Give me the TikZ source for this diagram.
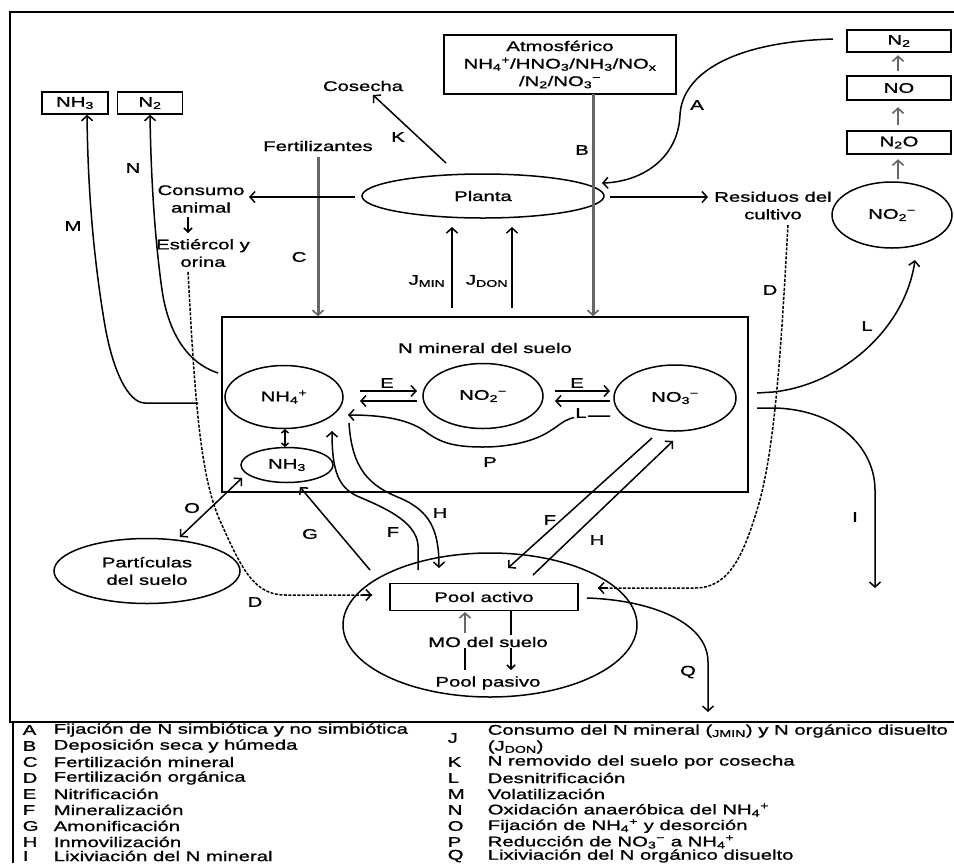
\documentclass[tikz,border=0pt]{standalone}
\usepackage{fontspec}
\setmainfont{Liberation Sans}[FakeStretch=1.45,FakeBold=1.2]
\usetikzlibrary{arrows.meta,shapes.geometric}
\newcommand\mysub[1]{\textsubscript{#1}}
\newcommand\mysup[1]{\textsuperscript{#1}}
\begin{document}
\begin{tikzpicture}[x=1pt,y=-1pt, font=\fontsize{14}{17.5}\selectfont,
  line width=1.5pt,
  arr/.style={-{Straight Barb[length=5pt,width=11pt]}},
  sarr/.style={-{Straight Barb[length=4pt,width=8pt]}},
  garr/.style={-{Straight Barb[length=5pt,width=11pt,line width=1.6pt]}, draw=black!60, line width=3pt},
  dbl/.style={{Straight Barb[length=5pt,width=11pt]}-{Straight Barb[length=5pt,width=11pt]}},
  sdbl/.style={{Straight Barb[length=3pt,width=7pt]}-{Straight Barb[length=3pt,width=7pt]}},
  box/.style={draw, rectangle, inner sep=0pt},
  ell/.style={draw, ellipse, inner sep=0pt},
  lab/.style={inner sep=0pt},
  dsh/.style={dash pattern=on 3pt off 1.5pt}]
\useasboundingbox (0,0) rectangle (954,863);
\fill[white] (0,0) rectangle (954,863);
% frame
\draw[line width=1.8pt] (954,12) -- (10,12) -- (10,722) -- (954,722);
\draw[line width=1.2pt] (13,722) -- (13,863);

% nodes
\node[box, minimum width=66, minimum height=22] (nh3t) at (75,103) {NH\mysub{3}};
\node[box, minimum width=65, minimum height=22] (n2t) at (150,103) {N\mysub{2}};
\node[lab] (cosecha) at (363,86) {Cosecha};
\node[lab] (fert) at (318,146) {Fertilizantes};
\node[lab, align=center] (consumo) at (201,199) {Consumo\\animal};
\node[lab, align=center] (estier) at (203,253) {Estiércol y\\orina};
\node[box, minimum width=232, minimum height=59, align=center] (atm) at (560,64.5)
  {Atmosférico\\NH\mysub{4}\mysup{+}/HNO\mysub{3}/NH\mysub{3}/NO\mysub{x}\\/N\mysub{2}/NO\mysub{3}\mysup{−}};
\node[ell, minimum width=242, minimum height=44] (planta) at (483,196) {Planta};
\node[lab, align=center] (resid) at (773,205.5) {Residuos del\\cultivo};
\node[box, minimum width=104, minimum height=22] (n2r) at (899,41) {N\mysub{2}};
\node[box, minimum width=104, minimum height=24] (nor) at (899,88) {NO};
\node[box, minimum width=104, minimum height=23] (n2or) at (899,142.5) {N\mysub{2}O};
\node[ell, minimum width=120, minimum height=66] (no2t) at (892,215) {NO\mysub{2}\mysup{−}};

\node[box, minimum width=526, minimum height=175] (soil) at (485,404.5) {};
\node[lab] (nmin) at (485,348) {N mineral del suelo};
\node[ell, minimum width=118, minimum height=63] (nh4) at (284,397) {NH\mysub{4}\mysup{+}};
\node[ell, minimum width=120, minimum height=65] (no2) at (483,396) {NO\mysub{2}\mysup{−}};
\node[ell, minimum width=122, minimum height=66] (no3) at (675,398) {NO\mysub{3}\mysup{−}};
\node[ell, minimum width=92, minimum height=35] (nh3s) at (287,465) {NH\mysub{3}};
\node[ell, minimum width=186, minimum height=65, align=center] (part) at (147,571) {Partículas\\del suelo};
\node[ell, minimum width=294, minimum height=144] (pool) at (490,625) {};
\node[box, minimum width=188, minimum height=27] (activo) at (484,597) {Pool activo};
\node[lab] (mo) at (488,642) {MO del suelo};
\node[lab] (pasivo) at (488,683) {Pool pasivo};

% coordinates
\coordinate (k1) at (446,163); \coordinate (k2) at (373,95);
\coordinate (c1) at (318,157);
\coordinate (pw) at (355,197); \coordinate (cw) at (249,197);
\coordinate (ce1) at (188,217); \coordinate (ce2) at (188,233);
\coordinate (b1) at (593,94);
\coordinate (a1) at (833,39); \coordinate (a2) at (602,183);
\coordinate (r1) at (610,197); \coordinate (r2) at (708,197);
\coordinate (jm1) at (452,308); \coordinate (jm2) at (452,227);
\coordinate (jd1) at (512,308); \coordinate (jd2) at (512,227);

% K
\draw[arr] (k1) -- (k2);
% C fertilizantes
\draw[garr] (c1) -- (c1 |- soil.north);
% consumo
\draw[arr] (pw) -- (cw);
\draw[sarr] (ce1) -- (ce2);
% B
\draw[garr] (b1) -- (b1 |- soil.north);
% A
\draw[arr] (a1) .. controls (730,42) and (682,75) .. (680,115) .. controls (678,160) and (640,182) .. (a2);
% residuos
\draw[arr] (r1) -- (r2);
% J
\draw[arr] (jm1) -- (jm2);
\draw[arr] (jd1) -- (jd2);
% right column
\draw[garr, line width=2.6pt] (no2t.north) ++(6,-2) -- ++(0,-20);
\draw[garr, line width=2.6pt] (n2or.north) ++(-1,-5) -- ++(0,-18);
\draw[garr, line width=2.6pt] (nor.north) ++(-1,-4) -- ++(0,-16);

% D left (dashed)
\coordinate (dl1) at (188,272); \coordinate (dl2) at (372,595);
\draw[dsh] (dl1) .. controls (195,400) and (200,480) .. (222,525) .. controls (242,570) and (255,595) .. (285,595) -- (dl2);
\draw[arr] ([xshift=-10pt]dl2) -- (dl2);
% D right (dashed)
\coordinate (dr1) at (788,225); \coordinate (dr2) at (598,588);
\draw[dsh] (dr1) .. controls (782,330) and (776,450) .. (757,510) .. controls (742,560) and (727,588) .. (695,588) -- (dr2);
\draw[arr] ([xshift=10pt]dr2) -- (dr2);

% M
\coordinate (m1) at (198,403);
\draw[arr] (m1) -- (145,403) .. controls (128,403) and (112,370) .. (104,320) .. controls (95,265) and (88,200) .. (nh3t.south -| 87,0);
% N
\coordinate (n1) at (218,373);
\draw[arr] (n1) .. controls (185,362) and (168,330) .. (162,290) .. controls (155,240) and (151,180) .. (n2t.south);

% L (denitrification) and I
\coordinate (l1) at (757,393); \coordinate (l2) at (915,260);
\draw[arr] (l1) -- (773,392) .. controls (840,385) and (905,330) .. (l2);
\coordinate (i1) at (757,408); \coordinate (i2) at (875,588);
\draw[arr] (i1) -- (775,408) .. controls (840,410) and (875,450) .. (875,490) -- (i2);

% E arrows
\draw[arr] (360,391) -- (417,391);
\draw[arr] (417,401) -- (360,401);
\draw[arr] (555,391) -- (610,391);
\draw[arr] (610,401) -- (555,401);
% P
\draw[arr] (610,416) -- (590,416) .. controls (565,416) and (562,424) .. (550,431) .. controls (535,441) and (510,447) .. (483,447) .. controls (452,447) and (440,442) .. (426,432) .. controls (410,420) and (385,415) .. (348,415);

% NH4 <-> NH3
\draw[sdbl] (285,429) -- (285,447);
% O
\draw[dbl] (242,478) -- (180,537);
% G
\draw[arr] (370,570) -- (300,487);
% F left
\draw[arr] (418,570) -- (418,545) .. controls (416,520) and (380,506) .. (357,496) .. controls (338,487) and (332,470) .. (332,431);
% H left
\draw[arr] (349,423) .. controls (352,470) and (370,486) .. (400,498) .. controls (430,511) and (439,530) .. (439,568);
% F right / H right
\draw[arr] (652,438) -- (508,568);
\draw[arr] (533,575) -- (673,441);
% Q
\draw[arr] (587,598) .. controls (650,600) and (708,622) .. (708,662) -- (708,712);
% MO
\draw (465,670) -- (465,648);
\draw[garr, line width=2.4pt] (465,633) -- (465,612);
\draw (511,610) -- (511,635);
\draw[sarr] (511,648) -- (511,670);

% labels
\node[lab] at (398,137) {K};
\node[lab] at (133,168) {N};
\node[lab] at (73,226) {M};
\node[lab] at (299,257) {C};
\node[lab] at (582,150) {B};
\node[lab] at (697,105) {A};
\node[lab] at (427,281) {J\mysub{MIN}};
\node[lab] at (487,281) {J\mysub{DON}};
\node[lab] at (770,290) {D};
\node[lab] at (867,326) {L};
\node[lab] at (855,517) {I};
\node[lab] at (387,383) {E};
\node[lab] at (577,383) {E};
\node[lab, fill=white, inner xsep=1pt] at (581,413) {L};
\node[lab] at (490,462) {P};
\node[lab] at (192,508) {O};
\node[lab] at (310,534) {G};
\node[lab] at (393,532) {F};
\node[lab] at (440,513) {H};
\node[lab] at (550,520) {F};
\node[lab] at (597,540) {H};
\node[lab] at (255,602) {D};
\node[lab] at (688,672) {Q};

% legend
\begin{scope}[every node/.style={lab, anchor=west}]
\node at (22,730) {A}; \node at (53,730) {Fijación de N simbiótica y no simbiótica};
\node at (22,746) {B}; \node at (53,746) {Deposición seca y húmeda};
\node at (22,762) {C}; \node at (53,762) {Fertilización mineral};
\node at (22,778) {D}; \node at (53,778) {Fertilización orgánica};
\node at (22,794) {E}; \node at (53,794) {Nitrificación};
\node at (22,810) {F}; \node at (53,810) {Mineralización};
\node at (22,826) {G}; \node at (53,826) {Amonificación};
\node at (22,842) {H}; \node at (53,842) {Inmovilización};
\node at (22,856) {I}; \node at (53,856) {Lixiviación del N mineral};
\node at (447,738) {J}; \node at (487,731) {Consumo del N mineral (\mysub{JMIN}) y N orgánico disuelto};
\node at (487,747) {(J\mysub{DON})};
\node at (447,762) {K}; \node at (487,762) {N removido del suelo por cosecha};
\node at (447,778) {L}; \node at (487,778) {Desnitrificación};
\node at (447,794) {M}; \node at (487,794) {Volatilización};
\node at (447,810) {N}; \node at (487,810) {Oxidación anaeróbica del NH\mysub{4}\mysup{+}};
\node at (447,826) {O}; \node at (487,826) {Fijación de NH\mysub{4}\mysup{+} y desorción};
\node at (447,842) {P}; \node at (487,842) {Reducción de NO\mysub{3}\mysup{−} a NH\mysub{4}\mysup{+}};
\node at (447,856) {Q}; \node at (487,856) {Lixiviación del N orgánico disuelto};
\end{scope}
\end{tikzpicture}
\end{document}
